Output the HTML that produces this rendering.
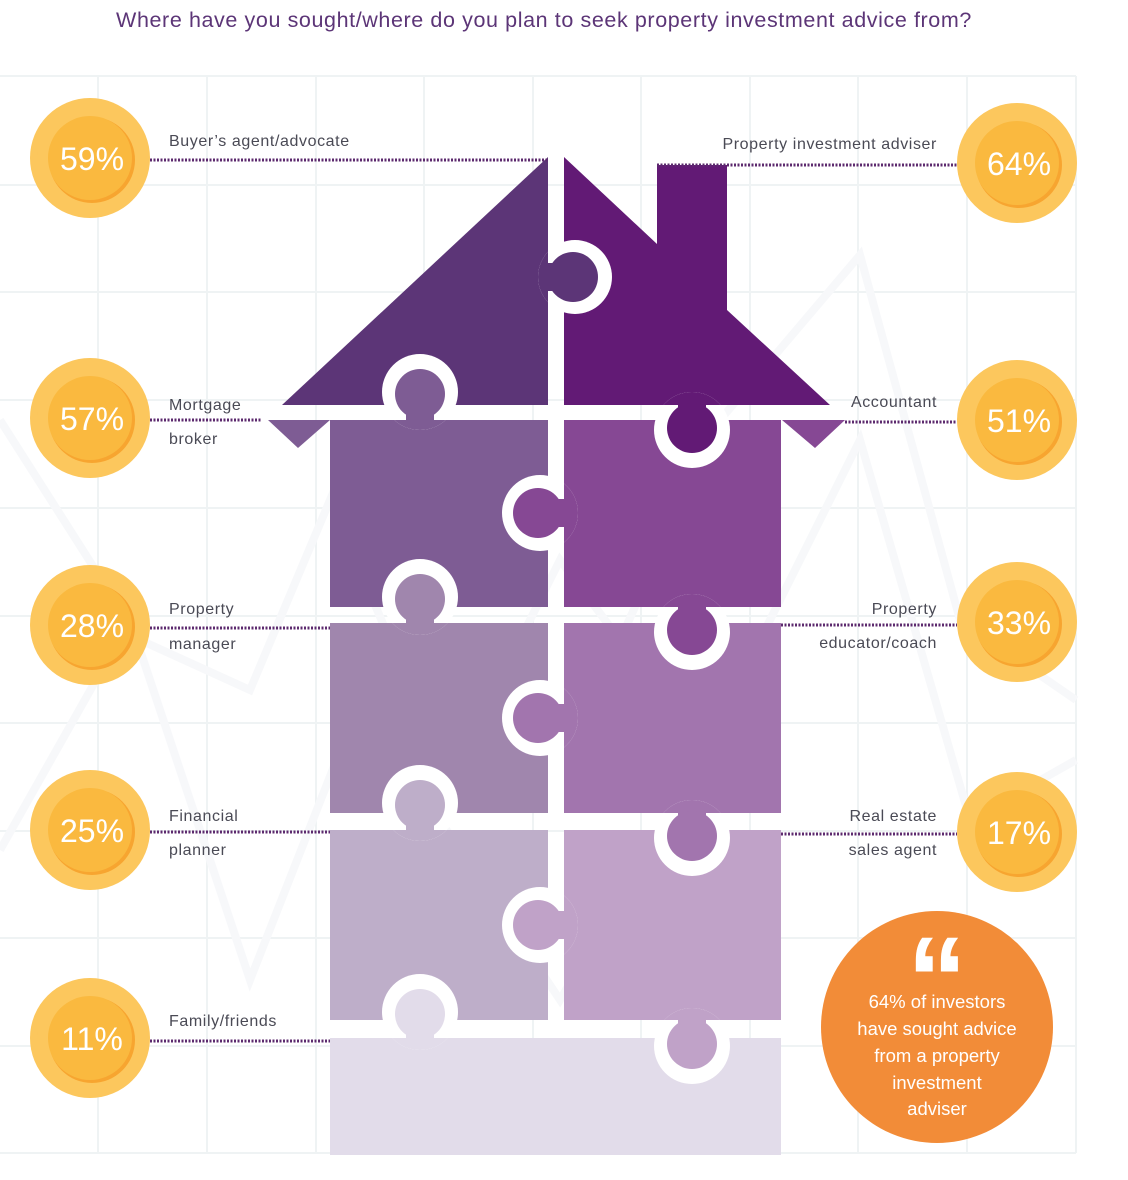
<!DOCTYPE html>
<html><head><meta charset="utf-8"><style>
body{margin:0;background:#fff;}
svg{display:block;}
text{font-family:"Liberation Sans",sans-serif;}
</style></head><body>
<svg width="1128" height="1180" viewBox="0 0 1128 1180" xmlns="http://www.w3.org/2000/svg">
<defs>
<clipPath id="k1"><circle cx="575" cy="277" r="37"/></clipPath>
<clipPath id="k2"><circle cx="420" cy="392" r="38"/></clipPath>
<clipPath id="k3"><circle cx="692" cy="430" r="38"/></clipPath>
<clipPath id="k4"><circle cx="540" cy="513" r="38"/></clipPath>
<clipPath id="k5"><circle cx="420" cy="597" r="38"/></clipPath>
<clipPath id="k6"><circle cx="692" cy="632" r="38"/></clipPath>
<clipPath id="k7"><circle cx="540" cy="718" r="38"/></clipPath>
<clipPath id="k8"><circle cx="420" cy="803" r="38"/></clipPath>
<clipPath id="k9"><circle cx="692" cy="838" r="38"/></clipPath>
<clipPath id="k10"><circle cx="540" cy="925" r="38"/></clipPath>
<clipPath id="k11"><circle cx="420" cy="1012" r="38"/></clipPath>
<clipPath id="k12"><circle cx="692" cy="1046" r="38"/></clipPath>
<g id="coin">
<circle cx="0" cy="0" r="60" fill="#fcc75d"/>
<path d="M-8,-58 A60,60 0 0 0 -8,58 A60,60 0 0 1 -8,-58Z" fill="#f7a530"/>
<circle cx="2" cy="2" r="43" fill="#f7a530"/>
<circle cx="0" cy="0" r="42" fill="#fab93f"/>
</g>
</defs>
<g stroke="#eff3f4" stroke-width="2" fill="none">
<line x1="98" y1="76" x2="98" y2="1153"/><line x1="207" y1="76" x2="207" y2="1153"/><line x1="316" y1="76" x2="316" y2="1153"/><line x1="424" y1="76" x2="424" y2="1153"/><line x1="533" y1="76" x2="533" y2="1153"/><line x1="641" y1="76" x2="641" y2="1153"/><line x1="750" y1="76" x2="750" y2="1153"/><line x1="858" y1="76" x2="858" y2="1153"/><line x1="967" y1="76" x2="967" y2="1153"/><line x1="1076" y1="76" x2="1076" y2="1153"/>
<line x1="0" y1="76" x2="1076" y2="76"/><line x1="0" y1="185" x2="1076" y2="185"/><line x1="0" y1="292" x2="1076" y2="292"/><line x1="0" y1="400" x2="1076" y2="400"/><line x1="0" y1="508" x2="1076" y2="508"/><line x1="0" y1="616" x2="1076" y2="616"/><line x1="0" y1="723" x2="1076" y2="723"/><line x1="0" y1="831" x2="1076" y2="831"/><line x1="0" y1="938" x2="1076" y2="938"/><line x1="0" y1="1046" x2="1076" y2="1046"/><line x1="0" y1="1153" x2="1076" y2="1153"/>
</g>
<polyline points="0,420 140,640 250,690 330,500 450,780 560,560 620,640 720,420 860,255 960,620 1076,700" fill="none" stroke="#f7f8fa" stroke-width="8"/>
<polyline points="0,850 130,620 250,980 360,700 560,1000 700,760 860,440 970,820 1076,760" fill="none" stroke="#f7f8fa" stroke-width="8"/>
<text x="544" y="27" text-anchor="middle" font-size="21.5" fill="#5c3577" letter-spacing="0.6">Where have you sought/where do you plan to seek property investment advice from?</text>

<!-- house -->
<polygon id="rl" points="282,405 548,157 548,405" fill="#5c3577"/>
<polygon id="rr" points="564,157 657,244 657,165 727,165 727,310 830,405 564,405" fill="#621a75"/>
<polygon points="268,420 330,420 298,448" fill="#7e5c94"/>
<polygon points="782,420 845,420 815,448" fill="#864894"/>
<rect x="330" y="420" width="218" height="187" fill="#7e5c94"/>
<rect x="564" y="420" width="217" height="187" fill="#864894"/>
<rect x="330" y="623" width="218" height="190" fill="#a086ad"/>
<rect x="564" y="623" width="217" height="190" fill="#a275ae"/>
<rect x="330" y="830" width="218" height="190" fill="#beaec9"/>
<rect x="564" y="830" width="217" height="190" fill="#c0a2c8"/>
<rect x="330" y="1038" width="451" height="117" fill="#e2dcea"/>

<!-- knobs: white ring, owner patch, knob -->
<circle cx="575" cy="277" r="37" fill="#fff"/><polygon clip-path="url(#k1)" points="282,405 548,157 548,405" fill="#5c3577"/><circle cx="573" cy="277" r="25" fill="#5c3577"/><rect x="546" y="263" width="20" height="28" fill="#5c3577"/>

<circle cx="420" cy="392" r="38" fill="#fff"/><rect clip-path="url(#k2)" x="330" y="420" width="218" height="187" fill="#7e5c94"/><circle cx="420" cy="394" r="25" fill="#7e5c94"/><rect x="406" y="403" width="28" height="18" fill="#7e5c94"/>

<circle cx="692" cy="430" r="38" fill="#fff"/><polygon clip-path="url(#k3)" points="564,157 657,244 657,165 727,165 727,310 830,405 564,405" fill="#621a75"/><circle cx="692" cy="428" r="25" fill="#621a75"/><rect x="678" y="404" width="28" height="18" fill="#621a75"/>

<circle cx="540" cy="513" r="38" fill="#fff"/><rect clip-path="url(#k4)" x="564" y="420" width="217" height="187" fill="#864894"/><circle cx="538" cy="513" r="25" fill="#864894"/><rect x="546" y="499" width="20" height="28" fill="#864894"/>

<circle cx="420" cy="597" r="38" fill="#fff"/><rect clip-path="url(#k5)" x="330" y="623" width="218" height="190" fill="#a086ad"/><circle cx="420" cy="599" r="25" fill="#a086ad"/><rect x="406" y="606" width="28" height="18" fill="#a086ad"/>

<circle cx="692" cy="632" r="38" fill="#fff"/><rect clip-path="url(#k6)" x="564" y="420" width="217" height="187" fill="#864894"/><circle cx="692" cy="630" r="25" fill="#864894"/><rect x="678" y="605" width="28" height="18" fill="#864894"/>

<circle cx="540" cy="718" r="38" fill="#fff"/><rect clip-path="url(#k7)" x="564" y="623" width="217" height="190" fill="#a275ae"/><circle cx="538" cy="718" r="25" fill="#a275ae"/><rect x="546" y="704" width="20" height="28" fill="#a275ae"/>

<circle cx="420" cy="803" r="38" fill="#fff"/><rect clip-path="url(#k8)" x="330" y="830" width="218" height="190" fill="#beaec9"/><circle cx="420" cy="805" r="25" fill="#beaec9"/><rect x="406" y="812" width="28" height="19" fill="#beaec9"/>

<circle cx="692" cy="838" r="38" fill="#fff"/><rect clip-path="url(#k9)" x="564" y="623" width="217" height="190" fill="#a275ae"/><circle cx="692" cy="836" r="25" fill="#a275ae"/><rect x="678" y="812" width="28" height="18" fill="#a275ae"/>

<circle cx="540" cy="925" r="38" fill="#fff"/><rect clip-path="url(#k10)" x="564" y="830" width="217" height="190" fill="#c0a2c8"/><circle cx="538" cy="925" r="25" fill="#c0a2c8"/><rect x="546" y="911" width="20" height="28" fill="#c0a2c8"/>

<circle cx="420" cy="1012" r="38" fill="#fff"/><rect clip-path="url(#k11)" x="330" y="1038" width="451" height="117" fill="#e2dcea"/><circle cx="420" cy="1014" r="25" fill="#e2dcea"/><rect x="406" y="1020" width="28" height="19" fill="#e2dcea"/>

<circle cx="692" cy="1046" r="38" fill="#fff"/><rect clip-path="url(#k12)" x="564" y="830" width="217" height="190" fill="#c0a2c8"/><circle cx="692" cy="1044" r="25" fill="#c0a2c8"/><rect x="678" y="1019" width="28" height="19" fill="#c0a2c8"/>

<!-- dotted lines -->
<g stroke="#5c2a6e" stroke-width="3" stroke-dasharray="2 1.5">
<line x1="150" y1="160" x2="548" y2="160"/>
<line x1="150" y1="420" x2="262" y2="420"/>
<line x1="150" y1="628" x2="330" y2="628"/>
<line x1="150" y1="832" x2="330" y2="832"/>
<line x1="150" y1="1041" x2="330" y2="1041"/>
<line x1="657" y1="165" x2="957" y2="165"/>
<line x1="845" y1="422" x2="957" y2="422"/>
<line x1="781" y1="625" x2="957" y2="625"/>
<line x1="781" y1="834" x2="957" y2="834"/>
</g>

<!-- labels -->
<g font-size="16" fill="#4a4a55" letter-spacing="0.6">
<text x="169" y="146">Buyer’s agent/advocate</text>
<text x="169" y="410">Mortgage</text><text x="169" y="444">broker</text>
<text x="169" y="614">Property</text><text x="169" y="649">manager</text>
<text x="169" y="821">Financial</text><text x="169" y="855">planner</text>
<text x="169" y="1026">Family/friends</text>
<g text-anchor="end">
<text x="937" y="149">Property investment adviser</text>
<text x="937" y="407">Accountant</text>
<text x="937" y="614">Property</text><text x="937" y="648">educator/coach</text>
<text x="937" y="821">Real estate</text><text x="937" y="855">sales agent</text>
</g></g>

<!-- coins -->
<g font-size="32" fill="#fff" text-anchor="middle">
<use href="#coin" x="90" y="158"/><text x="92" y="170">59%</text>
<use href="#coin" x="90" y="418"/><text x="92" y="430">57%</text>
<use href="#coin" x="90" y="625"/><text x="92" y="637">28%</text>
<use href="#coin" x="90" y="830"/><text x="92" y="842">25%</text>
<use href="#coin" x="90" y="1038"/><text x="92" y="1050">11%</text>
<use href="#coin" x="1017" y="163"/><text x="1019" y="175">64%</text>
<use href="#coin" x="1017" y="420"/><text x="1019" y="432">51%</text>
<use href="#coin" x="1017" y="622"/><text x="1019" y="634">33%</text>
<use href="#coin" x="1017" y="832"/><text x="1019" y="844">17%</text>
</g>

<!-- quote -->
<circle cx="937" cy="1027" r="116" fill="#f28c38"/>
<text x="937" y="1020" text-anchor="middle" font-size="120" font-family="Liberation Serif,serif" fill="#fff" font-weight="bold">“</text>
<g font-size="18.5" fill="#fff" text-anchor="middle">
<text x="937" y="1008">64% of investors</text>
<text x="937" y="1035">have sought advice</text>
<text x="937" y="1062">from a property</text>
<text x="937" y="1089">investment</text>
<text x="937" y="1115">adviser</text>
</g>
</svg>
</body></html>
